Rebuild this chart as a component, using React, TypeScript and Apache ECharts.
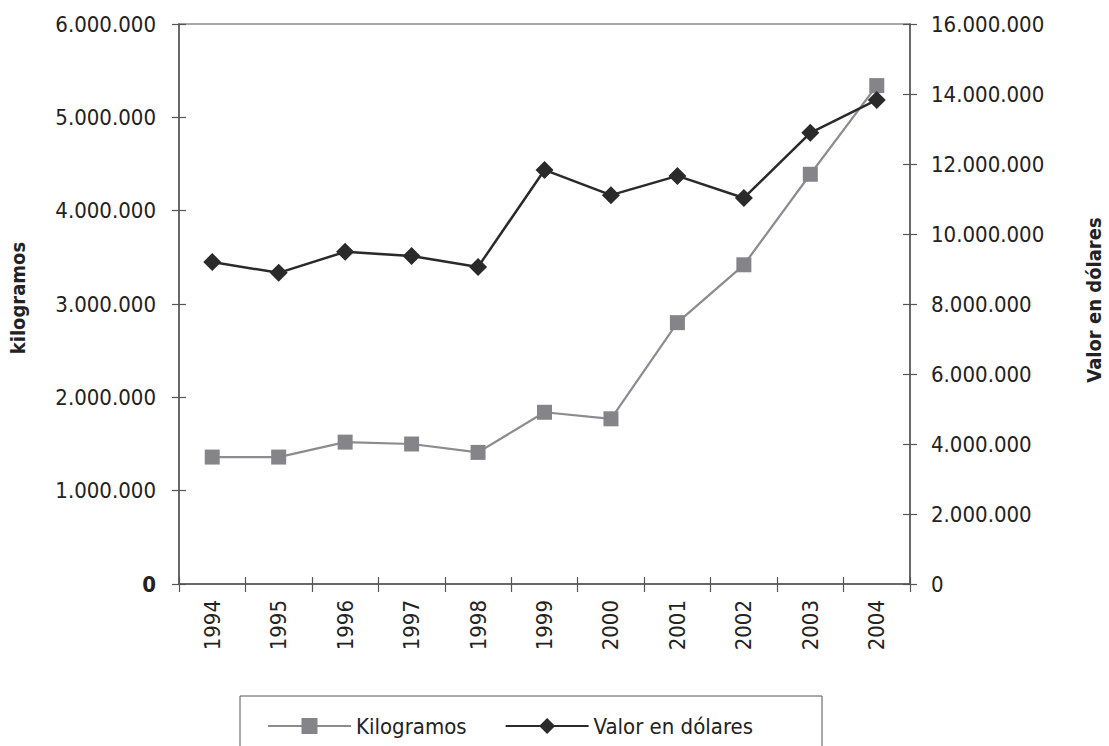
import React, { useEffect, useRef } from "react";
import * as echarts from "echarts";

const years = ["1994", "1995", "1996", "1997", "1998", "1999", "2000", "2001", "2002", "2003", "2004"];
const kilogramos = [1360000, 1360000, 1520000, 1500000, 1410000, 1840000, 1770000, 2800000, 3420000, 4390000, 5340000];
const valorDolares = [9200000, 8890000, 9490000, 9370000, 9060000, 11830000, 11110000, 11660000, 11030000, 12890000, 13830000];

const FONT = "'DejaVu Sans Condensed', 'Liberation Sans Narrow', sans-serif";

function fmt(v: number): string {
  return String(Math.round(v)).replace(/\B(?=(\d{3})+(?!\d))/g, ".");
}

export default function App() {
  const ref = useRef<HTMLDivElement>(null);
  useEffect(() => {
    if (!ref.current) return;
    const chart = echarts.init(ref.current, null, { renderer: "svg" });
    const axisLineColor = "#555";
    chart.setOption({
      animation: false,
      backgroundColor: "#fff",
      textStyle: { fontFamily: FONT },
      grid: {
        left: 179,
        right: 199,
        top: 24,
        bottom: 162,
        show: true,
        borderColor: "#8a8a8a",
        borderWidth: 1.5,
      },
      legend: {
        data: [
          { name: "Kilogramos" },
          { name: "Valor en dólares" },
        ],
        left: 262,
        top: 710,
        itemWidth: 83,
        itemHeight: 20,
        itemGap: 38,
        textStyle: { fontSize: 22, color: "#222", fontFamily: FONT },
      },
      graphic: [
        {
          type: "rect",
          shape: { x: 240, y: 696, width: 582, height: 70 },
          style: { fill: "none", stroke: "#555", lineWidth: 1 },
          z: 0,
        },
        {
          type: "text",
          x: 18,
          y: 298,
          rotation: Math.PI / 2,
          style: {
            text: "kilogramos",
            font: `bold 20px ${FONT}`,
            fill: "#222",
            align: "center",
            verticalAlign: "middle",
          },
        },
        {
          type: "text",
          x: 1094,
          y: 300,
          rotation: Math.PI / 2,
          style: {
            text: "Valor en dólares",
            font: `bold 20px ${FONT}`,
            fill: "#222",
            align: "center",
            verticalAlign: "middle",
          },
        },
      ],
      xAxis: [
        {
          type: "category",
          data: years,
          boundaryGap: true,
          axisLine: { lineStyle: { color: axisLineColor, width: 1.5 } },
          axisTick: { show: true, length: 8, lineStyle: { color: axisLineColor, width: 1.2 } },
          axisLabel: {
            rotate: 90,
            margin: 16,
            fontSize: 22,
            color: "#222",
            fontFamily: FONT,
          },
          splitLine: { show: false },
        },
        {
          type: "category",
          data: years,
          position: "bottom",
          boundaryGap: true,
          axisLine: { show: false },
          axisTick: { show: true, inside: true, length: 7, lineStyle: { color: axisLineColor, width: 1.2 } },
          axisLabel: { show: false },
          splitLine: { show: false },
        },
      ],
      yAxis: [
        {
          type: "value",
          position: "left",
          min: 0,
          max: 6000000,
          interval: 1000000,
          axisLine: { show: true, lineStyle: { color: axisLineColor, width: 1.5 } },
          axisTick: { show: true, length: 7, lineStyle: { color: axisLineColor, width: 1.2 } },
          axisLabel: {
            margin: 23,
            fontSize: 22,
            color: "#222",
            fontFamily: FONT,
            formatter: (v: number) => (v === 0 ? "{b|0}" : fmt(v)),
            rich: { b: { fontWeight: "bold", fontSize: 22, fontFamily: FONT, color: "#222" } },
          },
          splitLine: { show: false },
        },
        {
          type: "value",
          position: "right",
          min: 0,
          max: 16000000,
          interval: 2000000,
          axisLine: { show: true, lineStyle: { color: axisLineColor, width: 1.5 } },
          axisTick: { show: true, length: 7, lineStyle: { color: axisLineColor, width: 1.2 } },
          axisLabel: {
            margin: 21,
            fontSize: 22,
            color: "#222",
            fontFamily: FONT,
            formatter: (v: number) => fmt(v),
          },
          splitLine: { show: false },
        },
        {
          type: "value",
          position: "left",
          min: 0,
          max: 6000000,
          interval: 1000000,
          axisLine: { show: false },
          axisTick: { show: true, inside: true, length: 7, lineStyle: { color: axisLineColor, width: 1.2 } },
          axisLabel: { show: false },
          splitLine: { show: false },
        },
        {
          type: "value",
          position: "right",
          min: 0,
          max: 16000000,
          interval: 2000000,
          axisLine: { show: false },
          axisTick: { show: true, inside: true, length: 7, lineStyle: { color: axisLineColor, width: 1.2 } },
          axisLabel: { show: false },
          splitLine: { show: false },
        },
      ],
      series: [
        {
          name: "Kilogramos",
          type: "line",
          yAxisIndex: 0,
          data: kilogramos,
          symbol: "rect",
          symbolSize: 15,
          itemStyle: { color: "#858589" },
          lineStyle: { color: "#8c8c90", width: 2.2 },
          z: 3,
        },
        {
          name: "Valor en dólares",
          type: "line",
          yAxisIndex: 1,
          data: valorDolares,
          symbol: "diamond",
          symbolSize: 18,
          itemStyle: { color: "#2a2a2a" },
          lineStyle: { color: "#2a2a2a", width: 2.5 },
          z: 4,
        },
      ],
    });
    return () => chart.dispose();
  }, []);
  return (
    <div
      ref={ref}
      style={{ position: "absolute", left: 0, top: 0, width: 1109, height: 746 }}
    />
  );
}
